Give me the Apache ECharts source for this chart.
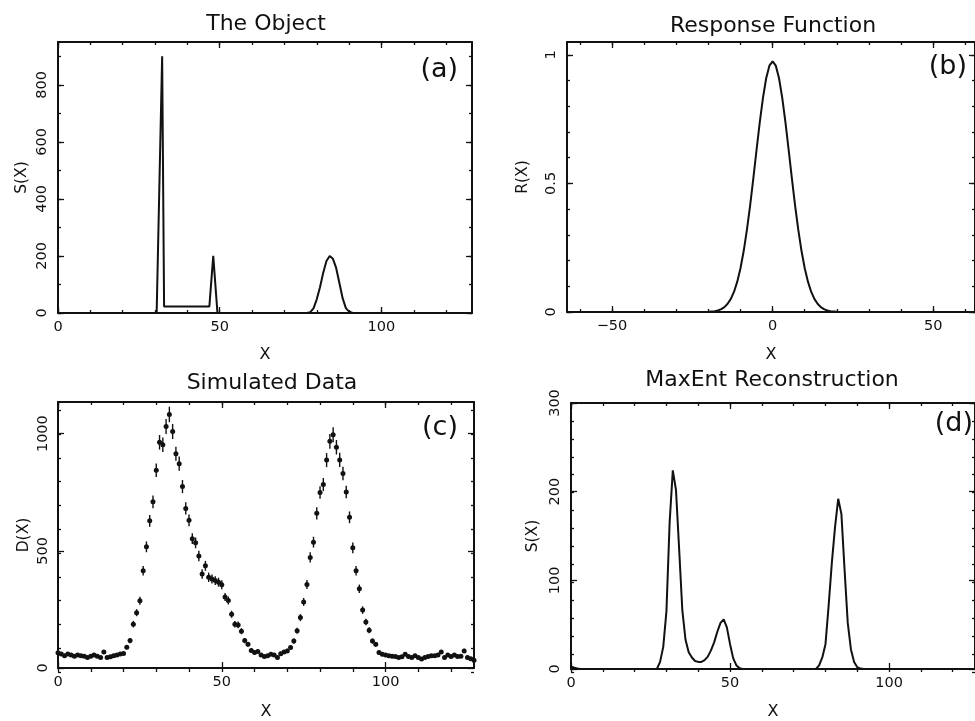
<!DOCTYPE html>
<html><head><meta charset="utf-8">
<script src="https://cdn.jsdelivr.net/npm/echarts@6/dist/echarts.min.js"></script>
<style>html,body{margin:0;padding:0;background:#fff}#c{width:975px;height:721px}</style>
</head><body><div id="c"></div>
<script>
// ---- (a) The Object ----
const objX = [0, 30.5, 32.2, 32.8, 46.8, 48.0, 49.3, 77, 78, 79, 80, 81, 82, 83, 84, 85, 86, 87, 88, 89, 90, 91, 92, 128];
const objY = [0, 0, 900, 23, 23, 200, 0, 0, 3, 16, 48, 90, 141, 182, 200, 190, 158, 105, 52, 17, 5, 1, 0, 0];

// ---- (b) Response Function ----
const respX = [-64, -20, -19, -18, -17, -16, -15, -14, -13, -12, -11, -10, -9, -8, -7, -6, -5, -4, -3, -2, -1, 0,
  1, 2, 3, 4, 5, 6, 7, 8, 9, 10, 11, 12, 13, 14, 15, 16, 17, 18, 19, 20, 63];
const respY = [0, 0.001, 0.002, 0.003, 0.006, 0.011, 0.019, 0.032, 0.051, 0.079, 0.118, 0.170, 0.237, 0.319, 0.414, 0.520, 0.630, 0.737, 0.833, 0.909, 0.958, 0.975,
  0.958, 0.909, 0.833, 0.737, 0.630, 0.520, 0.414, 0.319, 0.237, 0.170, 0.118, 0.079, 0.051, 0.032, 0.019, 0.011, 0.006, 0.003, 0.002, 0.001, 0];

// ---- (c) Simulated Data (x = 0..127) ----
const dataD = [65, 60, 52, 60, 55, 50, 56, 52, 50, 45, 50, 55, 50, 45, 68, 45, 48, 52, 55, 60,
  62, 89, 117, 187, 236, 287, 415, 517, 628, 709, 844, 963, 953, 1030, 1082, 1009, 914, 872, 774, 681,
  630, 552, 534, 478, 401, 436, 387, 380, 373, 366, 355, 303, 288, 229, 187, 184, 157, 117, 101, 75,
  66, 70, 56, 49, 52, 59, 56, 45, 61, 68, 73, 87, 115, 159, 215, 282, 356, 472, 537, 660,
  749, 783, 887, 967, 995, 942, 888, 830, 751, 643, 513, 415, 338, 247, 196, 161, 115, 101, 66, 59,
  56, 52, 50, 49, 45, 48, 59, 49, 45, 52, 45, 38, 45, 49, 52, 52, 55, 68, 45, 56,
  49, 55, 49, 50, 73, 45, 40, 33];
const dataErr = [8, 8, 7, 8, 7, 7, 7, 7, 7, 7, 7, 7, 7, 7, 8, 7, 7, 7, 7, 8,
  8, 9, 11, 14, 15, 17, 20, 23, 25, 27, 29, 31, 31, 32, 33, 32, 30, 30, 28, 26,
  25, 23, 23, 22, 20, 21, 20, 19, 19, 19, 19, 17, 17, 15, 14, 14, 13, 11, 10, 9,
  8, 8, 7, 7, 7, 8, 7, 7, 8, 8, 9, 9, 11, 13, 15, 17, 19, 22, 23, 26,
  27, 28, 30, 31, 32, 31, 30, 29, 27, 25, 23, 20, 18, 16, 14, 13, 11, 10, 8, 8,
  7, 7, 7, 7, 7, 7, 8, 7, 7, 7, 7, 6, 7, 7, 7, 7, 7, 8, 7, 7,
  7, 7, 7, 7, 9, 7, 6, 6];

// ---- (d) MaxEnt Reconstruction (x = 0..127) ----
const recS = [3, 1.5, 0.5, 0, 0, 0, 0, 0, 0, 0, 0, 0, 0, 0, 0, 0, 0, 0, 0, 0,
  0, 0, 0, 0, 0, 0, 0, 0, 8, 25, 65, 165, 224, 202, 135, 66, 33, 19, 13, 9,
  8, 8, 10, 14, 21, 30, 42, 52, 56, 47, 28, 12, 4, 1, 0, 0, 0, 0, 0, 0,
  0, 0, 0, 0, 0, 0, 0, 0, 0, 0, 0, 0, 0, 0, 0, 0, 0, 0, 4, 13,
  28, 72, 120, 160, 192, 175, 112, 52, 22, 8, 2, 0.5, 0, 0, 0, 0, 0, 0, 0, 0,
  0, 0, 0, 0, 0, 0, 0, 0, 0, 0, 0, 0, 0, 0, 0, 0, 0, 0, 0, 0,
  0, 0, 0, 0, 0, 0, 0, 0];

// ---- tick values ----
const aXMajor = [0, 50, 100];
const aXMinor = [0, 10, 20, 30, 40, 50, 60, 70, 80, 90, 100, 110, 120];
const aYMajor = [0, 200, 400, 600, 800];
const aYMinor = [0, 100, 200, 300, 400, 500, 600, 700, 800, 900];
const bXMajor = [-50, 0, 50];
const bXMinor = [-60, -50, -40, -30, -20, -10, 0, 10, 20, 30, 40, 50, 60];
const bYMajor = [0, 0.5, 1];
const bYMinor = [0, 0.1, 0.2, 0.3, 0.4, 0.5, 0.6, 0.7, 0.8, 0.9, 1];
const cXMajor = [0, 50, 100];
const cXMinor = [0, 10, 20, 30, 40, 50, 60, 70, 80, 90, 100, 110, 120];
const cYMajor = [0, 500, 1000];
const cYMinor = [0, 100, 200, 300, 400, 500, 600, 700, 800, 900, 1000, 1100];
const dXMajor = [0, 50, 100];
const dXMinor = [0, 10, 20, 30, 40, 50, 60, 70, 80, 90, 100, 110, 120];
const dYMajor = [0, 100, 200, 300];
const dYMinor = [0, 20, 40, 60, 80, 100, 120, 140, 160, 180, 200, 220, 240, 260, 280, 300];

const titles = ['The Object', 'Response Function', 'Simulated Data', 'MaxEnt Reconstruction'];
const tags = ['(a)', '(b)', '(c)', '(d)'];
const yNames = ['S(X)', 'R(X)', 'D(X)', 'S(X)'];

const FONT = '"DejaVu Sans", "Liberation Sans", sans-serif';
const INK = '#111111';

const panels = [
  {grid: {left: 58, top: 42, width: 414, height: 271}, xr: [0, 128], yr: [0, 950],
   xMaj: aXMajor, xMin: aXMinor, yMaj: aYMajor, yMin: aYMinor, yGap: 28, yMargin: 8, xGap: 34,
   title: [266, 24.5], tag: [458, 70]},
  {grid: {left: 567, top: 42, width: 409, height: 270}, xr: [-64, 63], yr: [0, 1.05],
   xMaj: bXMajor, xMin: bXMinor, yMaj: bYMajor, yMin: bYMinor, yGap: 36, yMargin: 8, xGap: 35,
   title: [773, 26], tag: [967, 66.5]},
  {grid: {left: 58, top: 402, width: 416, height: 270}, xr: [0, 127], yr: [0, 1135],
   xMaj: cXMajor, xMin: cXMinor, yMaj: cYMajor, yMin: cYMinor, yGap: 26, yMargin: 7, xGap: 36,
   title: [272, 383.5], tag: [458, 427.5]},
  {grid: {left: 571, top: 403, width: 408, height: 269}, xr: [0, 127], yr: [0, 300],
   xMaj: dXMajor, xMin: dXMinor, yMaj: dYMajor, yMin: dYMinor, yGap: 30, yMargin: 8, xGap: 35,
   title: [772, 380.5], tag: [973, 423.5]}
];

function fmt(v) {
  return v < 0 ? '\u2212' + Math.abs(v) : String(v);
}

const grids = [], xAxis = [], yAxis = [], graphic = [];

function axis(gi, pos, range, ticks, len, showLine, labelOpt, nameOpt) {
  const a = {
    type: 'value', gridIndex: gi, position: pos, min: range[0], max: range[1],
    axisLine: showLine ? {show: true, onZero: false, lineStyle: {color: INK, width: 2}} : {show: false, onZero: false},
    axisTick: {show: true, inside: true, length: len, customValues: ticks, lineStyle: {color: INK, width: 1.3}},
    axisLabel: {show: false},
    splitLine: {show: false},
    minorTick: {show: false}
  };
  if (labelOpt) a.axisLabel = labelOpt;
  if (nameOpt) Object.assign(a, nameOpt);
  return a;
}

panels.forEach((p, i) => {
  grids.push(Object.assign({}, p.grid));
  grids.push(Object.assign({}, p.grid));
  const gMaj = 2 * i, gMin = 2 * i + 1;
  const xLab = {show: true, customValues: p.xMaj, margin: 7, fontFamily: FONT, fontSize: 14.5, color: INK, formatter: fmt};
  const yLab = {show: true, customValues: p.yMaj, margin: p.yMargin, rotate: 90, fontFamily: FONT, fontSize: 14.5, color: INK, formatter: fmt};
  const xName = {name: 'X', nameLocation: 'middle', nameGap: p.xGap, nameTextStyle: {fontFamily: FONT, fontSize: 16, color: INK}};
  const yName = {name: yNames[i], nameLocation: 'middle', nameRotate: 90, nameGap: p.yGap, nameTextStyle: {fontFamily: FONT, fontSize: 15.5, color: INK}};
  xAxis.push(axis(gMaj, 'bottom', p.xr, p.xMaj, 6, true, xLab, xName));
  xAxis.push(axis(gMaj, 'top', p.xr, p.xMaj, 6, true));
  xAxis.push(axis(gMin, 'bottom', p.xr, p.xMin, 3, false));
  xAxis.push(axis(gMin, 'top', p.xr, p.xMin, 3, false));
  yAxis.push(axis(gMaj, 'left', p.yr, p.yMaj, 6, true, yLab, yName));
  yAxis.push(axis(gMaj, 'right', p.yr, p.yMaj, 6, true));
  yAxis.push(axis(gMin, 'left', p.yr, p.yMin, 3, false));
  yAxis.push(axis(gMin, 'right', p.yr, p.yMin, 3, false));
  graphic.push({type: 'text', x: p.title[0], y: p.title[1], silent: true,
    style: {text: titles[i], font: '22px ' + FONT, fill: INK, align: 'center', verticalAlign: 'middle'}});
  graphic.push({type: 'text', x: p.tag[0], y: p.tag[1], silent: true,
    style: {text: tags[i], font: '27px ' + FONT, fill: INK, align: 'right', verticalAlign: 'middle'}});
});

const lineStyle = {color: INK, width: 2};
const series = [
  {type: 'line', xAxisIndex: 0, yAxisIndex: 0, data: objX.map((x, k) => [x, objY[k]]),
   showSymbol: false, lineStyle: lineStyle, smooth: false},
  {type: 'line', xAxisIndex: 4, yAxisIndex: 4, data: respX.map((x, k) => [x, respY[k]]),
   showSymbol: false, lineStyle: lineStyle, smooth: false},
  {type: 'custom', xAxisIndex: 8, yAxisIndex: 8, encode: {x: 0, y: 1},
   data: dataD.map((v, k) => [k, v, dataErr[k]]),
   renderItem: function (params, api) {
     const x = api.value(0), v = api.value(1), e = api.value(2);
     const p = api.coord([x, v]);
     const lo = api.coord([x, v - e]);
     const hi = api.coord([x, v + e]);
     return {type: 'group', children: [
       {type: 'line', shape: {x1: p[0], y1: lo[1], x2: p[0], y2: hi[1]}, style: {stroke: INK, lineWidth: 1.4}},
       {type: 'circle', shape: {cx: p[0], cy: p[1], r: 2.5}, style: {fill: INK}}
     ]};
   }},
  {type: 'line', xAxisIndex: 12, yAxisIndex: 12, data: recS.map((v, k) => [k, v]),
   showSymbol: false, lineStyle: lineStyle, smooth: false}
];

const chart = echarts.init(document.getElementById('c'), null, {renderer: 'canvas'});
chart.setOption({
  animation: false,
  backgroundColor: '#ffffff',
  grid: grids, xAxis: xAxis, yAxis: yAxis, series: series, graphic: graphic
});
</script>
</body></html>
